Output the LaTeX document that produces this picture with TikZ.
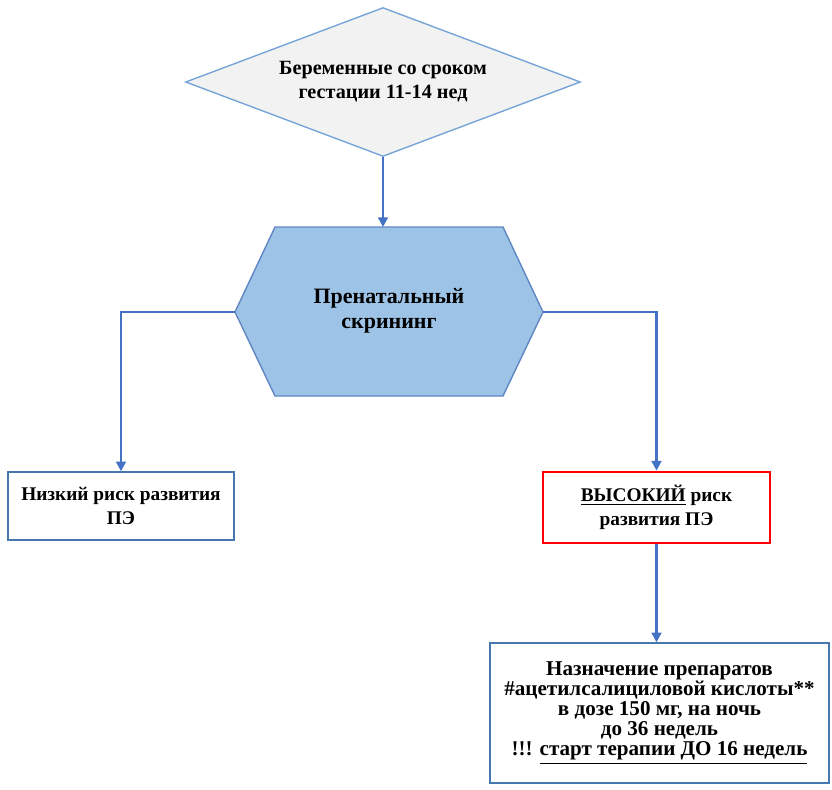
\documentclass[tikz,border=0pt]{standalone}
\usepackage{fontspec}
\setmainfont{Liberation Serif}
\usetikzlibrary{shapes.geometric,arrows.meta}
\definecolor{flowblue}{RGB}{68,114,196}
\definecolor{boxblue}{RGB}{70,120,175}
\definecolor{diamondline}{RGB}{120,165,215}
\definecolor{diamondfill}{RGB}{242,242,242}
\definecolor{hexline}{RGB}{95,135,195}
\definecolor{hexfill}{RGB}{157,195,230}
\tikzset{
  box/.style={draw=boxblue,line width=0.8pt,fill=white,align=center,inner sep=0pt,
    font=\bfseries\fontsize{11}{13.4}\selectfont},
  flow/.style={->,draw=flowblue,line width=1.3pt}
}
\begin{document}
\begin{tikzpicture}[x=0.02cm,y=-0.02cm,>={Triangle[length=5.5pt,width=5.5pt]}]
  \useasboundingbox (0,0) rectangle (832,789);
  % top
  \node[diamond,aspect=2.65,draw=diamondline,fill=diamondfill,line width=0.8pt,inner sep=0pt,
    minimum width=7.9cm,minimum height=2.98cm,align=center,
    font=\bfseries\fontsize{11.5}{13.7}\selectfont] (preg) at (383,82)
    {Беременные со сроком\\гестации 11-14 нед};
  % screening
  \filldraw[fill=hexfill,draw=hexline,line width=0.8pt]
    (275,227) -- (503,227) -- (543,312) -- (503,396) -- (275,396) -- (235,312) -- cycle;
  \coordinate (screenN) at (389,227);
  \coordinate (screenW) at (235,312);
  \coordinate (screenE) at (543,312);
  \node[align=center,font=\bfseries\fontsize{12.5}{14.2}\selectfont] (screen) at (389,311)
    {Пренатальный\\скрининг};
  % risk boxes
  \node[box,minimum width=4.52cm,minimum height=1.36cm] (low) at (121,506)
    {Низкий риск развития\\ПЭ};
  \node[box,draw=red,line width=1.6pt,minimum width=4.54cm,minimum height=1.42cm] (high) at (656.5,507.5)
    {\underline{ВЫСОКИЙ} риск\\развития ПЭ};
  \node[box,minimum width=6.78cm,minimum height=2.8cm,
    font=\bfseries\fontsize{12}{11.4}\selectfont] (therapy) at (659.5,713)
    {Назначение препаратов\\\#ацетилсалициловой кислоты**\\в дозе 150 мг, на ночь\\до 36 недель\\!!! \underline{старт терапии ДО 16 недель}};
  % arrows
  \draw[flow] (preg.south) -- (preg.south |- screenN);
  \draw[flow] (screenW) -| (low.north);
  \draw[flow] (screenE) -| (high.north);
  \draw[flow] (high.south) -- (high.south |- therapy.north);
\end{tikzpicture}
\end{document}
